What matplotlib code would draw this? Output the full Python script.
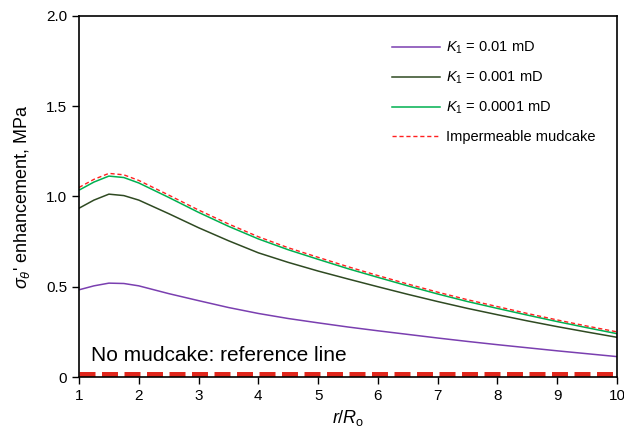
import matplotlib
matplotlib.use("Agg")
import matplotlib.pyplot as plt

plt.rcParams['font.family'] = ['Liberation Sans', 'DejaVu Sans']
plt.rcParams['mathtext.fontset'] = 'custom'
plt.rcParams['mathtext.rm'] = 'Liberation Sans'
plt.rcParams['mathtext.it'] = 'Liberation Sans:italic'

# r/Ro positions and curves
r = [1, 1.25, 1.5, 1.75, 2, 2.5, 3, 3.5, 4, 4.5, 5, 5.5, 6, 6.5, 7, 7.5, 8, 8.5, 9, 9.5, 10]
k_001 = [0.483, 0.505, 0.52, 0.518, 0.505, 0.462, 0.423, 0.385, 0.352, 0.324, 0.300, 0.277,
         0.256, 0.236, 0.216, 0.197, 0.179, 0.162, 0.145, 0.129, 0.113]
k_0001 = [0.935, 0.98, 1.013, 1.005, 0.98, 0.905, 0.827, 0.755, 0.688, 0.635, 0.587, 0.543,
          0.50, 0.458, 0.418, 0.38, 0.345, 0.311, 0.279, 0.249, 0.22]
k_00001 = [1.035, 1.08, 1.113, 1.105, 1.075, 0.995, 0.912, 0.835, 0.765, 0.705, 0.652, 0.60,
           0.552, 0.505, 0.46, 0.418, 0.38, 0.343, 0.307, 0.273, 0.24]
imperm = [1.05, 1.095, 1.128, 1.12, 1.089, 1.008, 0.925, 0.848, 0.777, 0.716, 0.663, 0.611,
          0.562, 0.515, 0.47, 0.428, 0.39, 0.352, 0.316, 0.282, 0.25]
ref_x = [1, 10]
ref_y = [0.014, 0.014]

fig = plt.figure(figsize=(6.24, 4.44), dpi=100)
ax = fig.add_axes([0.1266, 0.1509, 0.8622, 0.8131])

ax.plot(r, k_001, color='#7a3fb0', lw=1.1, label='$K_1$ = 0.01 mD')
ax.plot(r, k_0001, color='#2f4a22', lw=1.1, label='$K_1$ = 0.001 mD')
ax.plot(r, k_00001, color='#00b050', lw=1.1, label='$K_1$ = 0.0001 mD')
ax.plot(r, imperm, color='#ff2020', lw=1.0, ls=(0, (3, 2)), label='Impermeable mudcake')
ax.plot(ref_x, ref_y, color='#e0261c', lw=3.6, ls=(0, (3.2, 1.3)), solid_capstyle='butt')

ax.text(1.2, 0.12, 'No mudcake: reference line', fontsize=15, va='center')

ax.set_xlim(1, 10)
ax.set_ylim(0, 2.0)
ax.set_xticks(range(1, 11))
ax.set_yticks([0, 0.5, 1.0, 1.5, 2.0])
ax.set_yticklabels(['0', '0.5', '1.0', '1.5', '2.0'])
ax.tick_params(direction='out', length=5, width=1, labelsize=11)
for s in ax.spines.values():
    s.set_linewidth(1.2)

ax.set_xlabel('$r$/$R_\\mathrm{o}$', fontsize=13)
ax.set_ylabel("$\\sigma_\\theta$' enhancement, MPa", fontsize=13, labelpad=10)

ax.legend(loc='upper right', bbox_to_anchor=(0.985, 0.97), frameon=False, fontsize=10.5,
          handlelength=3.3, handletextpad=0.4, labelspacing=0.93)

fig.savefig('out.png', dpi=100)
